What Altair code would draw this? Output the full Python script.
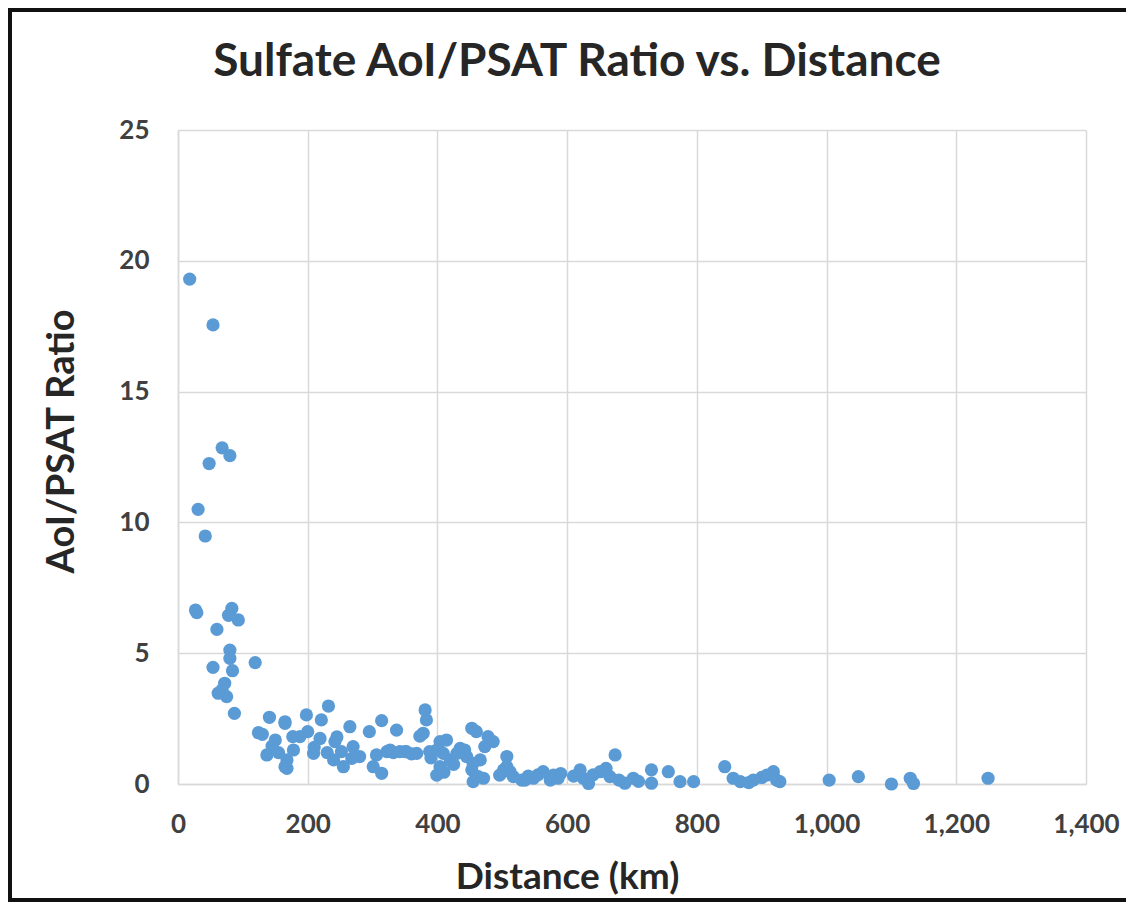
import altair as alt
import pandas as pd

# Distance (km)
distance = [
    18, 54, 68, 80, 48, 31, 42, 29, 27, 83, 78, 93, 60, 80, 80, 84, 54, 119, 72, 62, 75, 68, 87,
    141, 165, 124, 150, 137, 165, 177, 232, 198, 165, 221, 265, 314, 295, 337, 188, 219, 178, 209,
    242, 252, 270, 240, 255, 268, 168, 168, 306, 322, 342, 301, 314, 280, 145, 130, 155, 200, 210,
    230, 245,
    381, 383, 378, 373, 327, 352, 399, 414, 404, 399, 435, 453, 460, 478, 486, 445, 466, 453, 455,
    471, 507, 507, 496, 517, 535, 350, 368, 388, 404, 409, 430, 442, 473, 455, 463, 502, 420, 410,
    390, 360, 332, 425,
    512, 530, 548, 563, 579, 586, 574, 620, 625, 633, 651, 674, 666, 689, 702, 730, 730, 756, 774,
    795, 843, 856, 867, 887, 908, 918, 923, 928, 640, 660, 610, 590, 555, 540, 680, 710, 880, 900,
    1004, 1049, 1100, 1129, 1134, 1249,
]
# AoI/PSAT ratio
ratio = [
    19.3, 17.55, 12.85, 12.55, 12.25, 10.5, 9.48, 6.55, 6.65, 6.71, 6.45, 6.27, 5.91, 5.12, 4.8,
    4.33, 4.46, 4.64, 3.85, 3.47, 3.34, 3.6, 2.7,
    2.55, 2.32, 1.96, 1.68, 1.11, 0.66, 1.81, 2.98, 2.64, 2.38, 2.45, 2.19, 2.42, 2.0, 2.06, 1.81,
    1.74, 1.3, 1.17, 1.62, 1.24, 1.43, 0.92, 0.66, 0.98, 0.92, 0.6, 1.11, 1.24, 1.24, 0.66, 0.41,
    1.05, 1.45, 1.9, 1.2, 2.0, 1.4, 1.2, 1.8,
    2.83, 2.45, 1.94, 1.83, 1.3, 1.24, 1.3, 1.68, 0.66, 0.34, 1.36, 2.13, 2.0, 1.81, 1.62, 1.05,
    0.92, 0.54, 0.09, 0.22, 1.05, 0.66, 0.34, 0.28, 0.15, 1.24, 1.17, 1.24, 1.62, 1.17, 1.17, 1.3,
    1.43, 0.79, 0.28, 0.54, 0.9, 0.45, 1.0, 1.15, 1.2, 0.75,
    0.47, 0.15, 0.22, 0.47, 0.34, 0.22, 0.15, 0.54, 0.22, 0.02, 0.47, 1.11, 0.28, 0.03, 0.22,
    0.54, 0.03, 0.47, 0.09, 0.09, 0.66, 0.22, 0.09, 0.15, 0.34, 0.47, 0.15, 0.09, 0.35, 0.6, 0.3,
    0.4, 0.35, 0.3, 0.15, 0.1, 0.05, 0.25,
    0.15, 0.28, 0.0, 0.22, 0.02, 0.22,
]

x_ticks = [0, 200, 400, 600, 800, 1000, 1200, 1400]
y_ticks = [0, 5, 10, 15, 20, 25]

df = pd.DataFrame({"Distance": distance, "Ratio": ratio})

FONT = "Lato"
GRID = "#d9d9d9"
TEXT = "#404040"

points = alt.Chart(df).mark_circle(size=175, color="#5b9bd5", opacity=1).encode(
    x=alt.X(
        "Distance:Q",
        scale=alt.Scale(domain=[0, 1400], nice=False, zero=True),
        axis=alt.Axis(
            values=x_ticks,
            format=",d",
            title="Distance (km)",
            titleX=389,
            titleY=93,
            titleAlign="center",
            titleBaseline="middle",
            titleFontSize=37,
            labelPadding=27,
            labelFlush=False,
            labelOverlap=False,
        ),
    ),
    y=alt.Y(
        "Ratio:Q",
        scale=alt.Scale(domain=[0, 25], nice=False),
        axis=alt.Axis(
            values=y_ticks,
            title="AoI/PSAT Ratio",
            titleX=-116,
            titleY=311,
            titleAlign="center",
            titleBaseline="middle",
            titleFontSize=38,
            labelPadding=29,
            labelFlush=False,
        ),
    ),
)

one = alt.Data(values=[{"f": 1}])
FRAME = dict(stroke="#111111", strokeWidth=4, strokeCap="butt")
frame_top = alt.Chart(one).mark_rule(**FRAME).encode(
    x=alt.value(-170), x2=alt.value(960), y=alt.value(-120)
)
frame_left = alt.Chart(one).mark_rule(**FRAME).encode(
    x=alt.value(-168), y=alt.value(-122), y2=alt.value(772)
)
frame_bottom = alt.Chart(one).mark_rule(**FRAME).encode(
    x=alt.value(-170), x2=alt.value(960), y=alt.value(770)
)

chart = (
    alt.layer(frame_top, frame_left, frame_bottom, points)
    .properties(
        width=908,
        height=654,
        autosize=alt.AutoSizeParams(type="none"),
        padding={"left": 170, "top": 122, "right": 40, "bottom": 118},
        title=alt.TitleParams(
            "Sulfate AoI/PSAT Ratio vs. Distance",
            anchor="middle",
            dx=-55,
            dy=116,
            fontSize=46,
            font=FONT,
            fontWeight="bold",
            color="#262626",
            offset=0,
            baseline="alphabetic",
        ),
        background="white",
    )
    .configure_view(strokeWidth=0)
    .configure_axis(
        grid=True,
        gridColor=GRID,
        gridWidth=1.5,
        domainColor=GRID,
        domainWidth=1.5,
        ticks=False,
        labelFont=FONT,
        labelFontSize=26,
        labelFontWeight="bold",
        labelColor=TEXT,
        titleFont=FONT,
        titleFontWeight="bold",
        titleColor="#262626",
    )
)

chart.save("out.html", embed_options={"renderer": "svg", "actions": False})
